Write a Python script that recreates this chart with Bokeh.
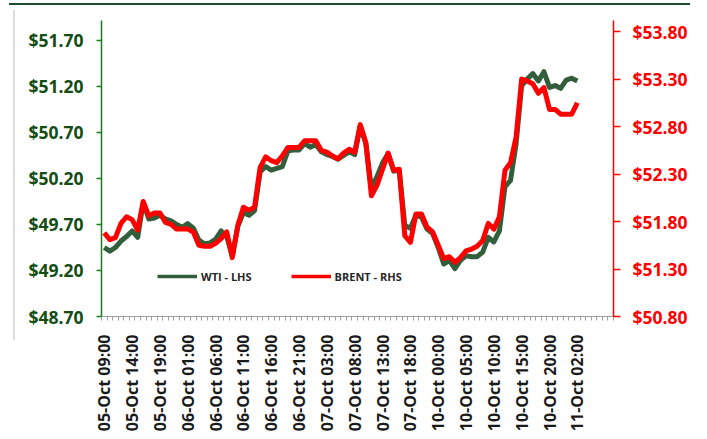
import math

from bokeh.embed import file_html
from bokeh.models import (FixedTicker, InlineStyleSheet, Legend, LegendItem,
                          LinearAxis, NumeralTickFormatter, Range1d)
from bokeh.plotting import figure
from bokeh.resources import INLINE

# Hourly crude prices, 05-Oct 09:00 to 11-Oct 02:00 (one hour skipped each night)
wti = [49.45, 49.41, 49.45, 49.52, 49.57, 49.63, 49.56, 49.94, 49.76, 49.77,
       49.80, 49.76, 49.74, 49.70, 49.67, 49.71, 49.66, 49.53, 49.49, 49.50,
       49.54, 49.63, 49.57, 49.36, 49.68, 49.83, 49.80, 49.85, 50.27, 50.33,
       50.29, 50.31, 50.33, 50.50, 50.51, 50.51, 50.58, 50.54, 50.57, 50.49,
       50.46, 50.44, 50.41, 50.45, 50.49, 50.46, 50.77, 50.58, 50.09, 50.22,
       50.37, 50.47, 50.28, 50.29, 49.69, 49.66, 49.80, 49.78, 49.65, 49.60,
       49.45, 49.27, 49.31, 49.22, 49.31, 49.36, 49.35, 49.35, 49.40, 49.56,
       49.51, 49.63, 50.11, 50.18, 50.58, 51.21, 51.28, 51.34, 51.26, 51.36,
       51.19, 51.21, 51.18, 51.27, 51.29, 51.26]

brent = [51.68, 51.61, 51.63, 51.78, 51.85, 51.82, 51.71, 52.01, 51.86, 51.89,
         51.89, 51.79, 51.77, 51.72, 51.72, 51.72, 51.69, 51.55, 51.54, 51.54,
         51.57, 51.62, 51.69, 51.42, 51.76, 51.95, 51.92, 51.95, 52.37, 52.48,
         52.44, 52.42, 52.49, 52.58, 52.58, 52.58, 52.65, 52.65, 52.65, 52.55,
         52.53, 52.49, 52.46, 52.52, 52.56, 52.53, 52.82, 52.63, 52.07, 52.18,
         52.35, 52.52, 52.34, 52.35, 51.65, 51.58, 51.88, 51.88, 51.74, 51.69,
         51.55, 51.41, 51.43, 51.37, 51.42, 51.49, 51.51, 51.54, 51.60, 51.78,
         51.72, 51.85, 52.34, 52.42, 52.69, 53.30, 53.28, 53.25, 53.15, 53.21,
         52.98, 52.98, 52.93, 52.93, 52.93, 53.05]

# every fifth hourly slot carries a label
time_labels = ["05-Oct 09:00", "05-Oct 14:00", "05-Oct 19:00", "06-Oct 01:00",
               "06-Oct 06:00", "06-Oct 11:00", "06-Oct 16:00", "06-Oct 21:00",
               "07-Oct 03:00", "07-Oct 08:00", "07-Oct 13:00", "07-Oct 18:00",
               "10-Oct 00:00", "10-Oct 05:00", "10-Oct 10:00", "10-Oct 15:00",
               "10-Oct 20:00", "11-Oct 02:00"]
label_step = 5
n_slots = 92  # axis keeps a few empty slots after the last reading

wti_ticks = [48.70, 49.20, 49.70, 50.20, 50.70, 51.20, 51.70]
brent_ticks = [50.80, 51.30, 51.80, 52.30, 52.80, 53.30, 53.80]

FONT = "Open Sans"
GREEN_LINE = "#335e3c"
GREEN_AXIS = "#1f7a1f"
GREEN_TEXT = "#134d13"
RED = "#ff0000"

# thin page rules around the chart: a dark bar on top, a grey one on the left
page_rules = InlineStyleSheet(css="""
:host { position: relative; }
:host::before {
  content: ""; position: absolute; z-index: 5;
  left: 9px; top: 3px; width: 681px; height: 2px; background: #1d4a33;
}
:host::after {
  content: ""; position: absolute; z-index: 5;
  left: 13px; top: 10px; width: 2px; height: 330px; background: #dcdcdc;
}
""")

x = list(range(len(wti)))

p = figure(width=707, height=439, output_backend="svg", toolbar_location=None,
           x_range=Range1d(-0.5, n_slots - 0.5),
           y_range=Range1d(48.70, 51.917),
           min_border_left=101, min_border_right=94,
           min_border_top=20, min_border_bottom=123,
           x_axis_location=None, y_axis_location=None,
           stylesheets=[page_rules])
p.outline_line_color = None
p.xgrid.visible = False
p.ygrid.visible = False
p.background_fill_color = "white"
p.border_fill_color = "white"

p.extra_y_ranges = {"brent": Range1d(50.80, 53.916)}

# left axis: WTI
left = LinearAxis(ticker=FixedTicker(ticks=wti_ticks),
                  formatter=NumeralTickFormatter(format="$0.00"))
left.axis_line_color = GREEN_AXIS
left.axis_line_width = 1.5
left.major_tick_line_color = GREEN_AXIS
left.major_tick_line_width = 1.5
left.major_tick_out = 5
left.major_tick_in = 0
left.minor_tick_line_color = None
left.major_label_standoff = 13
left.major_label_text_font = FONT
left.major_label_text_font_style = "bold"
left.major_label_text_font_size = "17.5px"
left.major_label_text_color = GREEN_TEXT
p.add_layout(left, "left")

# right axis: Brent
right = LinearAxis(y_range_name="brent", ticker=FixedTicker(ticks=brent_ticks),
                   formatter=NumeralTickFormatter(format="$0.00"))
right.axis_line_color = RED
right.axis_line_width = 1.5
right.major_tick_line_color = RED
right.major_tick_line_width = 1.5
right.major_tick_out = 7
right.major_tick_in = 0
right.minor_tick_line_color = None
right.major_label_standoff = 12
right.major_label_text_font = FONT
right.major_label_text_font_style = "bold"
right.major_label_text_font_size = "17.5px"
right.major_label_text_color = RED
p.add_layout(right, "right")

# bottom axis: a tick at every slot boundary, a label every fifth slot
label_pos = [i * label_step for i in range(len(time_labels))]
bottom = LinearAxis(ticker=FixedTicker(ticks=label_pos,
                                       minor_ticks=[k - 0.5 for k in range(n_slots + 1)]))
bottom.major_label_overrides = {pos: lab for pos, lab in zip(label_pos, time_labels)}
bottom.major_label_orientation = math.pi / 2
bottom.axis_line_color = "#a0a0a0"
bottom.axis_line_width = 1
bottom.major_tick_line_color = None
bottom.major_tick_out = 0
bottom.major_tick_in = 0
bottom.minor_tick_line_color = "#a0a0a0"
bottom.minor_tick_out = 4
bottom.minor_tick_in = 0
bottom.major_label_standoff = 14
bottom.major_label_text_font = FONT
bottom.major_label_text_font_style = "bold"
bottom.major_label_text_font_size = "16px"
bottom.major_label_text_color = "#1a1a1a"
p.add_layout(bottom, "below")

p.line(x, wti, line_color=GREEN_LINE, line_width=5, line_join="round")
p.line(x, brent, line_color=RED, line_width=5, line_join="round",
       y_range_name="brent")

# legend swatches are slimmer than the plotted lines
nan = float("nan")
wti_key = p.line([0], [nan], line_color=GREEN_LINE, line_width=3.5)
brent_key = p.line([0], [nan], line_color=RED, line_width=3.5)
legend = Legend(items=[LegendItem(label="WTI - LHS", renderers=[wti_key]),
                       LegendItem(label="BRENT - RHS", renderers=[brent_key])],
                orientation="horizontal", location=(56, 30),
                glyph_width=40, glyph_height=20, label_height=20,
                label_standoff=4, spacing=39, padding=0, margin=0,
                border_line_color=None, background_fill_alpha=0,
                label_text_font=FONT, label_text_font_style="bold",
                label_text_font_size="11px", label_text_color="#262626")
p.add_layout(legend, "center")

open("out.html", "w").write(file_html(p, INLINE))
